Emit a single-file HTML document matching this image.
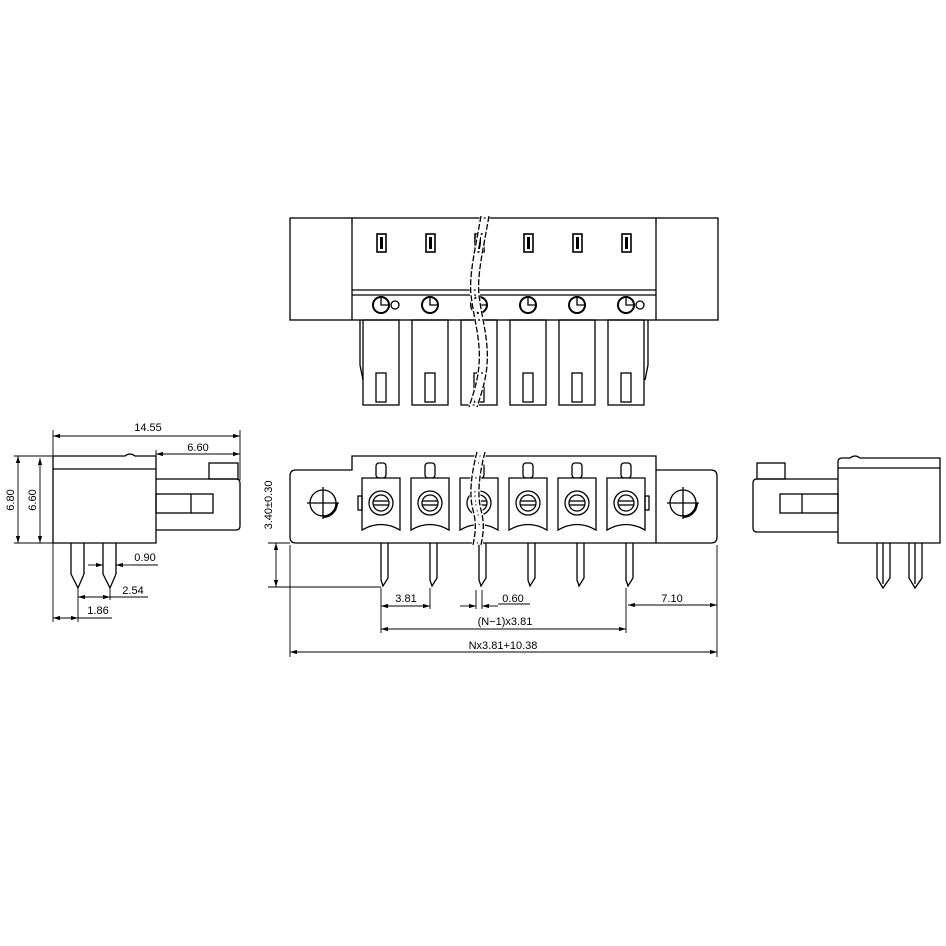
<!DOCTYPE html>
<html><head><style>html,body{margin:0;padding:0;background:#fff}svg{display:block}text{font-family:"Liberation Sans",sans-serif;font-size:11px;fill:#000}</style></head>
<body>
<svg width="946" height="946" viewBox="0 0 946 946" xmlns="http://www.w3.org/2000/svg" fill="none" stroke="#000" stroke-width="1.3">
<defs>
<marker id="a" viewBox="0 0 10 6" refX="10" refY="3" markerWidth="8" markerHeight="5" orient="auto-start-reverse"><path d="M0,0L10,3L0,6z" fill="#000" stroke="none"/></marker>
</defs>
<!-- TOP VIEW -->
<rect x="290" y="218" width="428" height="102"/>
<line x1="352" y1="218" x2="352" y2="320"/><line x1="656" y1="218" x2="656" y2="320"/>
<line x1="352" y1="290" x2="656" y2="290"/><line x1="352" y1="295" x2="656" y2="295"/>
<g id="tcol">
<rect x="377" y="234" width="9" height="18" stroke-width="1.6"/><rect x="380" y="237" width="3" height="12" fill="#000" stroke="none"/>
<circle cx="381" cy="305" r="8" stroke-width="2"/><path d="M381,297V305H389"/>
<rect x="363" y="320" width="36" height="85"/>
<rect x="376" y="373" width="10" height="29"/>
</g>
<use href="#tcol" x="49"/><use href="#tcol" x="98"/><use href="#tcol" x="147"/><use href="#tcol" x="196"/><use href="#tcol" x="245"/>
<circle cx="395" cy="305" r="4"/><circle cx="640" cy="305" r="4"/>
<path d="M360,320L360,365L363,380"/><path d="M648,320L648,365L645,380"/>
<path d="M482,216C476,250 470,275 472,295C475,320 482,340 480,365C479,380 474,395 470,407M488,216C482,250 476,275 478,295C481,320 488,340 486,365C485,380 480,395 476,407" stroke="#fff" stroke-width="4"/>
<path d="M481,216C475,250 469,275 471,295C474,320 481,340 479,365C478,380 473,395 469,407M489,216C483,250 477,275 479,295C482,320 489,340 487,365C486,380 481,395 477,407" stroke-dasharray="6,2"/>
<!-- FRONT VIEW -->
<path d="M296,470H352V456H656V470H711Q717,470 717,476V537Q717,543 711,543H296Q290,543 290,537V476Q290,470 296,470Z"/>
<line x1="656" y1="470" x2="656" y2="543"/>
<g id="fcol">
<rect x="376" y="463" width="10" height="15" rx="3"/>
<path d="M362,478H400V530Q381,519 362,530Z" fill="#fff"/>
<circle cx="381" cy="503" r="12"/><circle cx="381" cy="503" r="8"/>
<line x1="373" y1="501" x2="389" y2="501"/><line x1="373" y1="505" x2="389" y2="505"/>
<path d="M381,543V580L383,586L388,578V543"/>
</g>
<use href="#fcol" x="49"/><use href="#fcol" x="98"/><use href="#fcol" x="147"/><use href="#fcol" x="196"/><use href="#fcol" x="245"/>
<rect x="358" y="496" width="4" height="14"/><rect x="645" y="496" width="4" height="14"/>
<g id="hole"><circle cx="323" cy="503" r="13"/><path d="M323,517A14,14 0 0 0 337,503" stroke-width="2"/><line x1="307" y1="503" x2="339" y2="503"/><line x1="323" y1="487" x2="323" y2="519"/></g>
<use href="#hole" x="360"/>
<path d="M478,452C472,475 470,495 474,510C478,525 476,535 474,545M484,452C478,475 476,495 480,510C484,525 482,535 480,545" stroke="#fff" stroke-width="5"/>
<path d="M477,452C471,475 469,495 473,510C477,525 475,535 473,545M485,452C479,475 477,495 481,510C485,525 483,535 481,545" stroke-dasharray="6,2"/>
<!-- front dims -->
<g stroke-width="0.9">
<line x1="268" y1="543" x2="290" y2="543"/><line x1="268" y1="587" x2="381" y2="587"/>
<line x1="276" y1="543" x2="276" y2="587" marker-start="url(#a)" marker-end="url(#a)"/>
<line x1="381" y1="588" x2="381" y2="633"/><line x1="430" y1="588" x2="430" y2="609"/>
<line x1="381" y1="606" x2="430" y2="606" marker-start="url(#a)" marker-end="url(#a)"/>
<line x1="476" y1="590" x2="476" y2="609"/><line x1="482" y1="590" x2="482" y2="609"/>
<line x1="460" y1="606" x2="476" y2="606" marker-end="url(#a)"/><line x1="498" y1="606" x2="482" y2="606" marker-end="url(#a)"/><line x1="498" y1="604" x2="530" y2="604"/>
<line x1="626" y1="588" x2="626" y2="633"/><line x1="717" y1="545" x2="717" y2="657"/><line x1="290" y1="545" x2="290" y2="657"/>
<line x1="628" y1="605" x2="717" y2="605" marker-start="url(#a)" marker-end="url(#a)"/>
<line x1="381" y1="629" x2="626" y2="629" marker-start="url(#a)" marker-end="url(#a)"/>
<line x1="290" y1="652" x2="717" y2="652" marker-start="url(#a)" marker-end="url(#a)"/>
</g>
<g stroke="none">
<text x="406" y="602" text-anchor="middle">3.81</text>
<text x="513" y="602" text-anchor="middle">0.60</text>
<text x="672" y="602" text-anchor="middle">7.10</text>
<text x="505" y="625" text-anchor="middle">(N−1)x3.81</text>
<text x="503" y="649" text-anchor="middle">Nx3.81+10.38</text>
<text transform="translate(272,505) rotate(-90)" text-anchor="middle">3.40±0.30</text>
</g>
<!-- LEFT VIEW -->
<path d="M53,456H125Q130,452 135,456H156V543H53Z"/>
<line x1="53" y1="469" x2="156" y2="469"/>
<path d="M156,479H236Q240,479 240,483V526Q240,530 236,530H156"/>
<rect x="209" y="463" width="29" height="16"/>
<rect x="156" y="494" width="57" height="19"/><line x1="191" y1="494" x2="191" y2="513"/>
<path d="M71,543V574L78,588L84,574V543"/><path d="M103,543V574L110,588L116,574V543"/>
<g stroke-width="0.9">
<line x1="53" y1="430" x2="53" y2="622"/><line x1="240" y1="430" x2="240" y2="480"/>
<line x1="53" y1="436" x2="240" y2="436" marker-start="url(#a)" marker-end="url(#a)"/>
<line x1="156" y1="450" x2="156" y2="458"/>
<line x1="156" y1="454" x2="240" y2="454" marker-start="url(#a)" marker-end="url(#a)"/>
<line x1="14" y1="456" x2="53" y2="456"/><line x1="14" y1="543" x2="53" y2="543"/>
<line x1="18" y1="456" x2="18" y2="543" marker-start="url(#a)" marker-end="url(#a)"/>
<line x1="40" y1="458" x2="40" y2="543" marker-start="url(#a)" marker-end="url(#a)"/>
<line x1="88" y1="565" x2="103" y2="565" marker-end="url(#a)"/><line x1="132" y1="565" x2="116" y2="565" marker-end="url(#a)"/><line x1="132" y1="565" x2="158" y2="565"/>
<line x1="78" y1="588" x2="78" y2="622"/><line x1="110" y1="588" x2="110" y2="600"/>
<line x1="78" y1="597" x2="110" y2="597" marker-start="url(#a)" marker-end="url(#a)"/><line x1="110" y1="597" x2="148" y2="597"/>
<line x1="53" y1="618" x2="78" y2="618" marker-start="url(#a)" marker-end="url(#a)"/><line x1="78" y1="618" x2="112" y2="618"/>
</g>
<g stroke="none">
<text x="148" y="431" text-anchor="middle">14.55</text>
<text x="198" y="451" text-anchor="middle">6.60</text>
<text transform="translate(14,500) rotate(-90)" text-anchor="middle">6.80</text>
<text transform="translate(36,500) rotate(-90)" text-anchor="middle">6.60</text>
<text x="145" y="561" text-anchor="middle">0.90</text>
<text x="133" y="594" text-anchor="middle">2.54</text>
<text x="98" y="614" text-anchor="middle">1.86</text>
</g>
<!-- RIGHT VIEW -->
<path d="M838,543V462Q838,458 842,458H850Q855,454 860,458H940V543Z"/>
<line x1="838" y1="468" x2="940" y2="468"/>
<path d="M838,479H757Q753,479 753,483V528Q753,532 757,532H838"/>
<rect x="757" y="463" width="28" height="16"/>
<rect x="780" y="494" width="58" height="19"/><line x1="802" y1="494" x2="802" y2="513"/>
<path d="M877,543V578L883,588L890,578V543M883,543V584"/><path d="M909,543V578L915,588L922,578V543M915,543V584"/>
</svg>
</body></html>
